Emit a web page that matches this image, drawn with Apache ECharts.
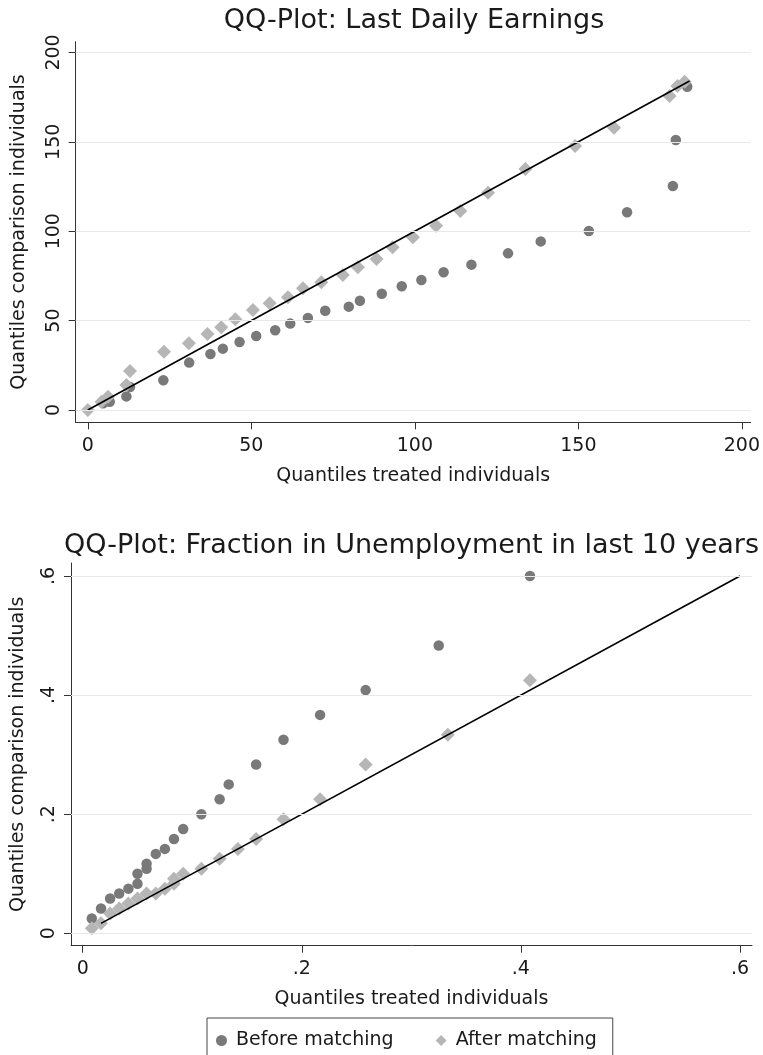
<!DOCTYPE html>
<html>
<head>
<meta charset="utf-8">
<script src="https://cdn.jsdelivr.net/npm/echarts@6/dist/echarts.min.js"></script>
<style>
  html, body { margin: 0; padding: 0; background: #ffffff; }
  #chart { width: 763px; height: 1055px; }
</style>
</head>
<body>
<div id="chart"></div>
<script>
// ---- Panel 1: last daily earnings (treated vs. comparison quantiles) ----
const earnBeforeX = [4.7, 6.7, 11.8, 12.9, 23.1, 31.0, 37.5, 41.3, 46.4, 51.5, 57.3, 61.9, 67.3, 72.6, 79.8, 83.2, 89.9, 96.0, 102.0, 108.8, 117.3, 128.5, 138.5, 153.2, 164.9, 178.9, 179.8, 183.3];
const earnBeforeY = [3.7, 4.6, 7.6, 12.8, 16.6, 26.5, 31.3, 34.3, 38.0, 41.4, 44.6, 48.3, 51.5, 55.5, 57.8, 61.1, 65.0, 69.2, 72.7, 77.0, 81.3, 87.6, 94.3, 100.1, 110.6, 125.3, 151.0, 180.8];
const earnAfterX = [0, 4.2, 6.2, 11.8, 12.9, 23.3, 30.9, 36.6, 40.8, 45.1, 50.5, 55.6, 61.2, 65.8, 71.4, 78.0, 82.6, 88.3, 93.2, 99.4, 106.5, 113.9, 122.4, 133.8, 149.0, 160.9, 177.9, 180.3, 182.5];
const earnAfterY = [0, 4.6, 7.4, 14.0, 21.8, 32.6, 37.3, 42.5, 46.2, 50.7, 55.9, 59.7, 63.0, 68.1, 71.4, 75.5, 79.8, 84.4, 91.0, 96.6, 103.1, 111.3, 121.5, 134.8, 147.7, 157.9, 175.6, 181.2, 183.6];
const earnDiagonal = [0, 184];
const earnTicks = [0, 50, 100, 150, 200];

// ---- Panel 2: fraction of the last 10 years spent unemployed ----
const unempBeforeX = [0.0083, 0.0167, 0.025, 0.0333, 0.0417, 0.05, 0.05, 0.0583, 0.0583, 0.0667, 0.075, 0.0833, 0.0917, 0.1083, 0.125, 0.1333, 0.1583, 0.1833, 0.2167, 0.2583, 0.325, 0.4083];
const unempBeforeY = [0.025, 0.0417, 0.0583, 0.0667, 0.075, 0.0833, 0.1, 0.1083, 0.1167, 0.1333, 0.1417, 0.1583, 0.175, 0.2, 0.225, 0.25, 0.2833, 0.325, 0.3667, 0.4083, 0.4833, 0.6];
const unempAfterX = [0.0083, 0.0167, 0.025, 0.0333, 0.0417, 0.05, 0.0583, 0.0667, 0.075, 0.0833, 0.0833, 0.0917, 0.1083, 0.125, 0.1417, 0.1583, 0.1833, 0.2167, 0.2583, 0.3333, 0.4083];
const unempAfterY = [0.0083, 0.0167, 0.0333, 0.0417, 0.05, 0.0583, 0.0667, 0.0667, 0.075, 0.0833, 0.0917, 0.1, 0.1083, 0.125, 0.1417, 0.1583, 0.1917, 0.225, 0.2833, 0.3333, 0.425];
const unempDiagonal = [0.0167, 0.6];
const unempTicks = [0, 0.2, 0.4, 0.6];

const seriesNames = ['Before matching', 'After matching'];
const titles = ['QQ-Plot: Last Daily Earnings', 'QQ-Plot: Fraction in Unemployment in last 10 years'];
const xTitle = 'Quantiles treated individuals';
const yTitle = 'Quantiles comparison individuals';

const FONT = 'DejaVu Sans';
const INK = '#1a1a1a';
const AXIS = '#333333';
const GRIDLINE = '#e8e8e8';
const DARK_MARK = '#797979';
const LIGHT_MARK = '#b6b6b6';

const pairs = (xs, ys) => xs.map((x, i) => [x, ys[i]]);
const fracLabel = v => (v === 0 ? '0' : String(+v.toFixed(2)).replace(/^0\./, '.'));

function xAxisFor(gridIndex, min, max, ticks, fmt, nameGap) {
  return {
    type: 'value', gridIndex, min, max,
    axisLine: { show: true, onZero: false, lineStyle: { color: AXIS, width: 1 } },
    axisTick: { show: true, length: 7, customValues: ticks, lineStyle: { color: AXIS } },
    axisLabel: { customValues: ticks, formatter: fmt, margin: 14, fontSize: 19, fontFamily: FONT, color: INK },
    splitLine: { show: false },
    name: xTitle, nameLocation: 'middle', nameGap,
    nameTextStyle: { fontSize: 19, fontFamily: FONT, color: INK }
  };
}

function yAxisFor(gridIndex, min, max, ticks, fmt, nameGap) {
  return {
    type: 'value', gridIndex, min, max,
    axisLine: { show: true, onZero: false, lineStyle: { color: AXIS, width: 1 } },
    axisTick: { show: true, length: 7, customValues: ticks, lineStyle: { color: AXIS } },
    axisLabel: { customValues: ticks, formatter: fmt, rotate: 90, margin: 12, fontSize: 19, fontFamily: FONT, color: INK },
    splitLine: { show: false },
    name: yTitle, nameLocation: 'middle', nameGap,
    nameTextStyle: { fontSize: 19, fontFamily: FONT, color: INK }
  };
}

function gridLines(idx, ticks) {
  return {
    type: 'line', xAxisIndex: idx, yAxisIndex: idx, data: [], silent: true, z: 1,
    markLine: {
      silent: true, symbol: 'none', animation: false,
      label: { show: false },
      lineStyle: { color: GRIDLINE, type: 'solid', width: 1.2 },
      emphasis: { disabled: true },
      data: ticks.map(v => ({ yAxis: v }))
    }
  };
}

function panelSeries(idx, bx, by, ax, ay, diag, ticks) {
  return [
    gridLines(idx, ticks),
    {
      name: seriesNames[0], type: 'scatter', xAxisIndex: idx, yAxisIndex: idx,
      symbol: 'circle', symbolSize: 10.5, itemStyle: { color: DARK_MARK, opacity: 1 },
      data: pairs(bx, by), z: 2
    },
    {
      name: seriesNames[1], type: 'scatter', xAxisIndex: idx, yAxisIndex: idx,
      symbol: 'diamond', symbolSize: 14, itemStyle: { color: LIGHT_MARK, opacity: 1 },
      data: pairs(ax, ay), z: 3
    },
    {
      type: 'line', xAxisIndex: idx, yAxisIndex: idx, symbol: 'none', silent: true,
      lineStyle: { color: '#000000', width: 1.6 },
      data: pairs(diag, diag), z: 4
    }
  ];
}

const chart = echarts.init(document.getElementById('chart'), null, { renderer: 'canvas' });
chart.setOption({
  animation: false,
  backgroundColor: '#ffffff',
  title: [
    { text: titles[0], left: 414, top: 7, textAlign: 'center', padding: 0,
      textStyle: { fontSize: 27, fontWeight: 'normal', fontFamily: FONT, color: INK } },
    { text: titles[1], left: 411.5, top: 532, textAlign: 'center', padding: 0,
      textStyle: { fontSize: 27, fontWeight: 'normal', fontFamily: FONT, color: INK } }
  ],
  grid: [
    { left: 75.7, top: 41.7, width: 676, height: 380.6, containLabel: false },
    { left: 71, top: 563, width: 681, height: 382.7, containLabel: false }
  ],
  xAxis: [
    xAxisFor(0, -3.7, 202.7, earnTicks, v => String(v), 44),
    xAxisFor(1, -0.0107, 0.611, unempTicks, fracLabel, 44)
  ],
  yAxis: [
    yAxisFor(0, -6.9, 206.0, earnTicks, v => String(v), 47),
    yAxisFor(1, -0.0208, 0.6217, unempTicks, fracLabel, 43)
  ],
  legend: {
    data: [
      { name: seriesNames[0], icon: 'circle', itemStyle: { color: DARK_MARK } },
      { name: seriesNames[1], icon: 'diamond', itemStyle: { color: LIGHT_MARK } }
    ],
    left: 207, top: 1018, orient: 'horizontal',
    itemWidth: 11, itemHeight: 11, itemGap: 42,
    padding: [13, 16, 30, 9],
    borderColor: '#444444', borderWidth: 1,
    textStyle: { fontSize: 19, fontFamily: FONT, color: INK, padding: [0, 0, 0, 4] },
    selectedMode: false
  },
  series: [
    ...panelSeries(0, earnBeforeX, earnBeforeY, earnAfterX, earnAfterY, earnDiagonal, earnTicks),
    ...panelSeries(1, unempBeforeX, unempBeforeY, unempAfterX, unempAfterY, unempDiagonal, unempTicks)
  ]
});
</script>
</body>
</html>
